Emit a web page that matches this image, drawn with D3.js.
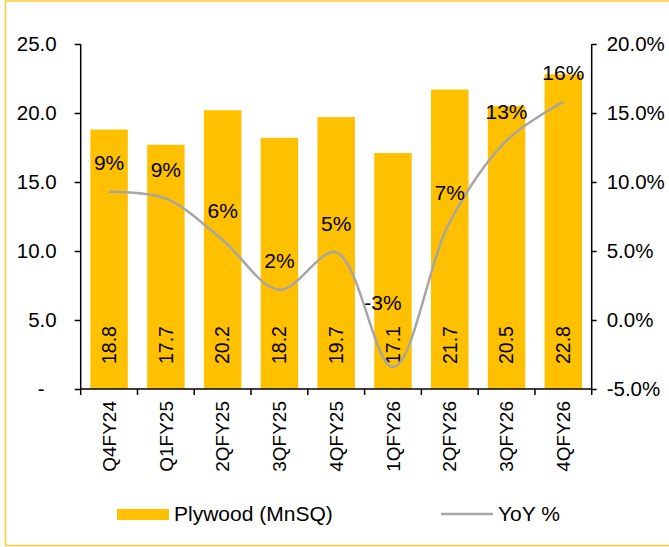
<!DOCTYPE html>
<html><head><meta charset="utf-8">
<script src="https://cdn.jsdelivr.net/npm/d3@7"></script>
<style>
body{margin:0;background:#fff}
svg text{font-family:"Liberation Sans",Arial,sans-serif;fill:#000}
</style>
</head><body>
<svg id="c" width="669" height="547"></svg>
<script>
const categories=["Q4FY24","Q1FY25","2QFY25","3QFY25","4QFY25","1QFY26","2QFY26","3QFY26","4QFY26"];
const plywood=[18.8,17.7,20.2,18.2,19.7,17.1,21.7,20.5,22.8];
const yoy=[9.3,8.8,5.8,2.2,4.9,-3.4,7.1,13.0,15.8];
const yoyLabels=["9%","9%","6%","2%","5%","-3%","7%","13%","16%"];
const leftTicks=[0,5,10,15,20,25];
const rightTicks=[-5,0,5,10,15,20];
const seriesNames=["Plywood (MnSQ)","YoY %"];

const svg=d3.select("#c");
const m={left:80.7,right:591.7,top:44,bottom:389};
const barColor="#FFC000", lineColor="#A6A6A6";

// border
svg.append("rect").attr("x",5.5).attr("y",1).attr("width",680).attr("height",544.5)
  .attr("fill","none").attr("stroke","#FFCB2E").attr("stroke-width",1.5);

const x=d3.scaleBand().domain(categories).range([m.left,m.right]).paddingInner(0.34).paddingOuter(0.17);
const yL=d3.scaleLinear().domain([0,25]).range([m.bottom,m.top]);
const yR=d3.scaleLinear().domain([-5,20]).range([m.bottom,m.top]);

// bars
svg.append("g").selectAll("rect").data(plywood).join("rect")
  .attr("x",(d,i)=>x(categories[i])).attr("width",x.bandwidth())
  .attr("y",d=>yL(d)).attr("height",d=>yL(0)-yL(d)).attr("fill",barColor);

// bar labels
svg.append("g").selectAll("text").data(plywood).join("text")
  .attr("transform",(d,i)=>`translate(${x(categories[i])+x.bandwidth()/2},${yL(0)-25}) rotate(-90)`)
  .attr("dy","0.35em").attr("text-anchor","start").style("font-size","19.5px")
  .text(d=>d.toFixed(1));

// left axis
const axL=d3.axisLeft(yL).tickValues(leftTicks).tickSize(6).tickPadding(18)
  .tickFormat(d=>d===0?"-":d.toFixed(1));
const gL=svg.append("g").attr("transform",`translate(${m.left},0)`).call(axL);
gL.select(".domain").attr("d",`M0,${m.top}V${m.bottom}`);
gL.selectAll("text").style("font-size","20.5px").attr("dx",d=>d===0?-12:0);

// right axis
const axR=d3.axisRight(yR).tickValues(rightTicks).tickSize(5).tickPadding(10)
  .tickFormat(d=>d.toFixed(1)+"%");
const gR=svg.append("g").attr("transform",`translate(${m.right},0)`).call(axR);
gR.select(".domain").attr("d",`M0,${m.top}V${m.bottom}`);
gR.selectAll("text").style("font-size","20.5px");

// bottom axis
const step=x.step();
const gB=svg.append("g");
gB.append("line").attr("x1",m.left).attr("x2",m.right).attr("y1",m.bottom).attr("y2",m.bottom)
  .attr("stroke","#000").attr("stroke-width",1.5);
gB.selectAll("line.t").data(d3.range(categories.length+1)).join("line").attr("class","t")
  .attr("x1",i=>m.left+i*step).attr("x2",i=>m.left+i*step)
  .attr("y1",m.bottom).attr("y2",m.bottom+6).attr("stroke","#000").attr("stroke-width",1.5);
gB.selectAll("text").data(categories).join("text")
  .attr("transform",d=>`translate(${x(d)+x.bandwidth()/2},${m.bottom+12}) rotate(-90)`)
  .attr("dy","0.35em").attr("text-anchor","end").style("font-size","19px").text(d=>d);

svg.selectAll(".domain, .tick line").attr("stroke","#000").attr("stroke-width",1.5);

// line
const line=d3.line().x((d,i)=>x(categories[i])+x.bandwidth()/2).y(d=>yR(d)).curve(d3.curveCatmullRom);
svg.append("path").datum(yoy).attr("d",line).attr("fill","none")
  .attr("stroke",lineColor).attr("stroke-width",2.5);

// line labels
svg.append("g").selectAll("text").data(yoy).join("text")
  .attr("x",(d,i)=>x(categories[i])+x.bandwidth()/2-(d<0?10:0))
  .attr("y",d=>Math.min(yR(d)-29,yR(0)-17))
  .attr("dy","0.35em").attr("text-anchor","middle").style("font-size","21px")
  .text((d,i)=>yoyLabels[i]);

// legend
const lg=svg.append("g");
lg.append("rect").attr("x",117).attr("y",509).attr("width",52).attr("height",11).attr("fill",barColor);
lg.append("text").attr("x",174).attr("y",514).attr("dy","0.35em").style("font-size","21px").text(seriesNames[0]);
lg.append("line").attr("x1",441).attr("x2",493).attr("y1",514).attr("y2",514)
  .attr("stroke",lineColor).attr("stroke-width",2.5);
lg.append("text").attr("x",498).attr("y",514).attr("dy","0.35em").style("font-size","21px").text(seriesNames[1]);
</script>
</body></html>
